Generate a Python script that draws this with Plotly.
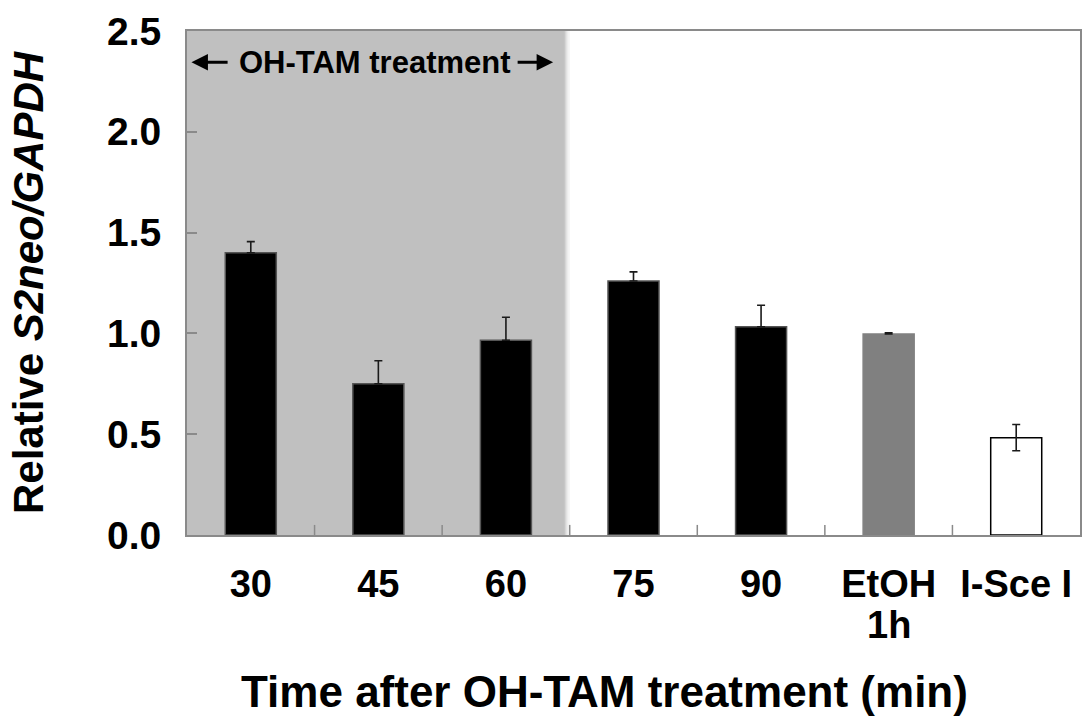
import plotly.graph_objects as go

# Relative S2neo/GAPDH expression per condition
categories = ["30", "45", "60", "75", "90", "EtOH", "I-Sce I"]
category_sublabels = ["", "", "", "", "", "1h", ""]
values = [1.40, 0.75, 0.966, 1.26, 1.033, 0.997, 0.483]
errors = [0.055, 0.114, 0.114, 0.045, 0.107, 0.006, 0.065]
fill_colors = ["#000000", "#000000", "#000000", "#000000", "#000000", "#808080", "#ffffff"]
line_colors = ["#555555", "#555555", "#555555", "#555555", "#555555", "#808080", "#000000"]

y_ticks = [0.0, 0.5, 1.0, 1.5, 2.0, 2.5]
y_tick_text = ["0.0", "0.5", "1.0", "1.5", "2.0", "2.5"]

FONT = "Liberation Sans, Arial, Helvetica, sans-serif"
AXIS_GREY = "#8a8a8a"

# lower whisker only shows on the open (white) bar
errors_minus = [e if c == "#ffffff" else 0 for e, c in zip(errors, fill_colors)]

fig = go.Figure()

fig.add_trace(go.Bar(
    x=list(range(len(categories))),
    y=values,
    width=0.4,
    marker=dict(color=fill_colors, line=dict(color=line_colors, width=1.5)),
    error_y=dict(type="data", array=errors, arrayminus=errors_minus, symmetric=False,
                 visible=True, color="#1a1a1a", thickness=1.6, width=4),
    showlegend=False,
))

# Shaded treatment window with a soft right edge
shapes = [dict(type="rect", xref="x", yref="y", x0=-0.5, x1=2.455, y0=0, y1=2.5,
               fillcolor="#c0c0c0", line=dict(width=0), layer="below")]
fade = ["#c6c6c6", "#d0d0d0", "#dcdcdc", "#e8e8e8", "#f3f3f3"]
step = 0.009
for i, c in enumerate(fade):
    shapes.append(dict(type="rect", xref="x", yref="y",
                       x0=2.455 + i * step, x1=2.455 + (i + 1) * step, y0=0, y1=2.5,
                       fillcolor=c, line=dict(width=0), layer="below"))

# Category boundary ticks pointing up from the x axis
for b in [0.5, 1.5, 2.5, 3.5, 4.5, 5.5]:
    shapes.append(dict(type="line", xref="x", yref="y", x0=b, x1=b, y0=0, y1=0.05,
                       line=dict(color=AXIS_GREY, width=1.5)))

annotations = [
    dict(text="OH-TAM treatment", x=0.97, y=2.345, xref="x", yref="y",
         showarrow=False, font=dict(size=31, family=FONT, weight="bold")),
    # arrows on both sides of the treatment label
    dict(x=-0.465, y=2.345, ax=-0.17, ay=2.345, xref="x", yref="y", axref="x", ayref="y",
         text="", showarrow=True, arrowhead=2, arrowsize=1.1, arrowwidth=3,
         arrowcolor="black"),
    dict(x=2.37, y=2.345, ax=2.08, ay=2.345, xref="x", yref="y", axref="x", ayref="y",
         text="", showarrow=True, arrowhead=2, arrowsize=1.1, arrowwidth=3,
         arrowcolor="black"),
    dict(text="Time after OH-TAM treatment (min)", x=0.468, y=-0.31, xref="paper",
         yref="paper", yanchor="middle", showarrow=False,
         font=dict(size=44, family=FONT, weight="bold")),
]
for i, sub in enumerate(category_sublabels):
    if sub:
        annotations.append(dict(text=sub, x=i, y=-0.178, xref="x", yref="paper",
                                yanchor="middle", showarrow=False,
                                font=dict(size=38, family=FONT, weight="bold")))

fig.update_layout(
    width=1085, height=718,
    margin=dict(l=187, r=3, t=31, b=183),
    plot_bgcolor="white", paper_bgcolor="white",
    font=dict(family=FONT, color="black"),
    shapes=shapes,
    annotations=annotations,
    xaxis=dict(
        range=[-0.5, 6.5],
        tickmode="array",
        tickvals=list(range(len(categories))),
        ticktext=categories,
        showgrid=False, zeroline=False,
        showline=True, linecolor=AXIS_GREY, linewidth=2, mirror=True,
        ticks="", ticklabelstandoff=14,
        tickfont=dict(size=38, family=FONT, weight="bold"),
    ),
    yaxis=dict(
        range=[0, 2.5],
        tickmode="array", tickvals=y_ticks, ticktext=y_tick_text,
        showgrid=False, zeroline=False,
        showline=True, linecolor=AXIS_GREY, linewidth=2, mirror=True,
        ticks="inside", ticklen=10, tickcolor=AXIS_GREY, tickwidth=1.5,
        ticklabelstandoff=16,
        tickfont=dict(size=39, family=FONT, weight="bold"),
        title=dict(text="Relative <i>S2neo/GAPDH</i>", standoff=50,
                   font=dict(size=42, family=FONT, weight="bold")),
    ),
)

fig.write_html("out.html")
